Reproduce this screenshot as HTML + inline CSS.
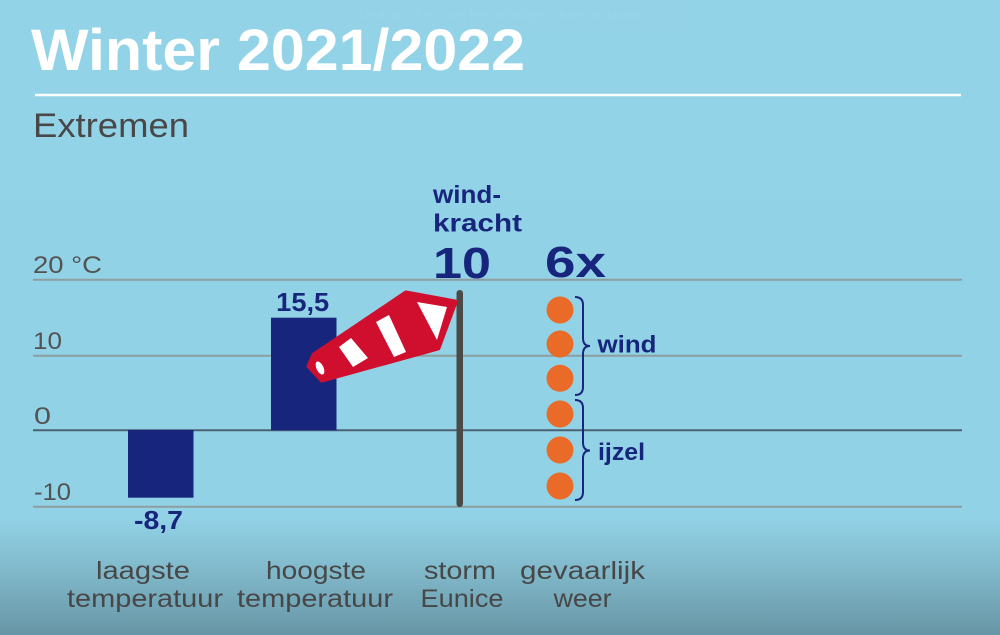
<!DOCTYPE html>
<html>
<head>
<meta charset="utf-8">
<style>
  html, body { margin:0; padding:0; width:1000px; height:635px; overflow:hidden; background:#93d3e7; }
  svg { display:block; }
  text { font-family: "Liberation Sans", "DejaVu Sans", sans-serif; }
</style>
</head>
<body>
<svg width="1000" height="635" viewBox="0 0 1000 635" xmlns="http://www.w3.org/2000/svg">
  <defs>
    <linearGradient id="bg" x1="0" y1="0" x2="0" y2="1">
      <stop offset="0" stop-color="#93d3e7"/>
      <stop offset="0.815" stop-color="#92d2e6"/>
      <stop offset="0.9" stop-color="#80b8ca"/>
      <stop offset="1" stop-color="#6796a6"/>
    </linearGradient>
  </defs>
  <rect x="0" y="0" width="1000" height="635" fill="url(#bg)"/>

  <!-- faint overlay box at top -->
  <rect x="313" y="0" width="377" height="33" fill="#ffffff" opacity="0.015"/>
  <text x="502" y="19" font-size="13" fill="#ffffff" opacity="0.04" text-anchor="middle">Druk op | Esc | om het volledige scherm te sluiten</text>

  <!-- Title -->
  <text x="31" y="70" font-size="58" font-weight="bold" fill="#ffffff" textLength="494" lengthAdjust="spacingAndGlyphs">Winter 2021/2022</text>
  <line x1="35" y1="95" x2="961" y2="95" stroke="#ffffff" stroke-width="2.5"/>
  <text x="33" y="137" font-size="34" fill="#484848" textLength="156" lengthAdjust="spacingAndGlyphs">Extremen</text>

  <!-- Gridlines -->
  <line x1="33" y1="279.7" x2="962" y2="279.7" stroke="#8d9e9f" stroke-width="2"/>
  <line x1="33" y1="355.7" x2="962" y2="355.7" stroke="#8d9e9f" stroke-width="2"/>
  <line x1="33" y1="430.3" x2="962" y2="430.3" stroke="#4c6272" stroke-width="2"/>
  <line x1="33" y1="506.7" x2="962" y2="506.7" stroke="#8d9e9f" stroke-width="2"/>

  <!-- Axis labels -->
  <text x="33" y="273" font-size="24" fill="#535353" textLength="69" lengthAdjust="spacingAndGlyphs">20 °C</text>
  <text x="33" y="349" font-size="24" fill="#535353" textLength="29" lengthAdjust="spacingAndGlyphs">10</text>
  <text x="34" y="424" font-size="24" fill="#535353" textLength="17" lengthAdjust="spacingAndGlyphs">0</text>
  <text x="34" y="500" font-size="24" fill="#535353" textLength="37" lengthAdjust="spacingAndGlyphs">-10</text>

  <!-- Bars -->
  <rect x="128" y="430" width="65.5" height="67.7" fill="#17267c"/>
  <rect x="271" y="317.7" width="65.5" height="112.6" fill="#17267c"/>
  <text x="302.7" y="311" font-size="26" font-weight="bold" fill="#17267c" text-anchor="middle" textLength="53" lengthAdjust="spacingAndGlyphs">15,5</text>
  <text x="158.5" y="529" font-size="26" font-weight="bold" fill="#17267c" text-anchor="middle" textLength="49" lengthAdjust="spacingAndGlyphs">-8,7</text>

  <!-- Pole -->
  <rect x="456.5" y="290" width="6.5" height="217" rx="3.2" fill="#4a4a48"/>

  <!-- Windsock -->
  <polygon points="314,355 406,293 455,302 438,348 322,380 309,366" fill="#cf0f2d" stroke="#cf0f2d" stroke-width="5" stroke-linejoin="round"/>
  <polygon points="417,302 447,307 437,340" fill="#ffffff"/>
  <polygon points="376,322 389,315 406,352 394,357" fill="#ffffff"/>
  <polygon points="339,347 351,338 368,358 353,367" fill="#ffffff"/>
  <ellipse cx="320" cy="368" rx="3.5" ry="7" transform="rotate(-25 320 368)" fill="#ffffff"/>

  <!-- windkracht 10 -->
  <text x="433" y="203" font-size="25" font-weight="bold" fill="#17267c" textLength="68" lengthAdjust="spacingAndGlyphs">wind-</text>
  <text x="433" y="231.7" font-size="25" font-weight="bold" fill="#17267c" textLength="89" lengthAdjust="spacingAndGlyphs">kracht</text>
  <text x="433" y="278" font-size="44" font-weight="bold" fill="#17267c" textLength="58" lengthAdjust="spacingAndGlyphs">10</text>

  <!-- 6x -->
  <text x="545" y="277" font-size="44" font-weight="bold" fill="#17267c" textLength="61" lengthAdjust="spacingAndGlyphs">6x</text>

  <!-- Dots -->
  <g fill="#ea6a28">
    <circle cx="560" cy="310" r="13.5"/>
    <circle cx="560" cy="344" r="13.5"/>
    <circle cx="560" cy="378.3" r="13.5"/>
    <circle cx="560" cy="414" r="13.5"/>
    <circle cx="560" cy="450" r="13.5"/>
    <circle cx="560" cy="486" r="13.5"/>
  </g>

  <!-- Braces -->
  <path d="M575,297 q8,0 8,8 v33 q0,8 7,8 q-7,0 -7,8 v33 q0,8 -8,8" fill="none" stroke="#17267c" stroke-width="2"/>
  <path d="M575,400 q8,0 8,8 v34.5 q0,8 7,8 q-7,0 -7,8 v33.5 q0,8 -8,8" fill="none" stroke="#17267c" stroke-width="2"/>
  <text x="597.5" y="352.7" font-size="24" font-weight="bold" fill="#17267c" textLength="59" lengthAdjust="spacingAndGlyphs">wind</text>
  <text x="598" y="460" font-size="24" font-weight="bold" fill="#17267c" textLength="47" lengthAdjust="spacingAndGlyphs">ijzel</text>

  <!-- Category labels -->
  <g font-size="25" fill="#474747" text-anchor="middle">
    <text x="143" y="579" textLength="94" lengthAdjust="spacingAndGlyphs">laagste</text>
    <text x="145" y="607" textLength="156" lengthAdjust="spacingAndGlyphs">temperatuur</text>
    <text x="316" y="579" textLength="100" lengthAdjust="spacingAndGlyphs">hoogste</text>
    <text x="315" y="607" textLength="156" lengthAdjust="spacingAndGlyphs">temperatuur</text>
    <text x="460" y="579" textLength="72" lengthAdjust="spacingAndGlyphs">storm</text>
    <text x="462" y="607" textLength="83" lengthAdjust="spacingAndGlyphs">Eunice</text>
    <text x="582.5" y="579" textLength="125" lengthAdjust="spacingAndGlyphs">gevaarlijk</text>
    <text x="582.6" y="607" textLength="58" lengthAdjust="spacingAndGlyphs">weer</text>
  </g>
</svg>
</body>
</html>
